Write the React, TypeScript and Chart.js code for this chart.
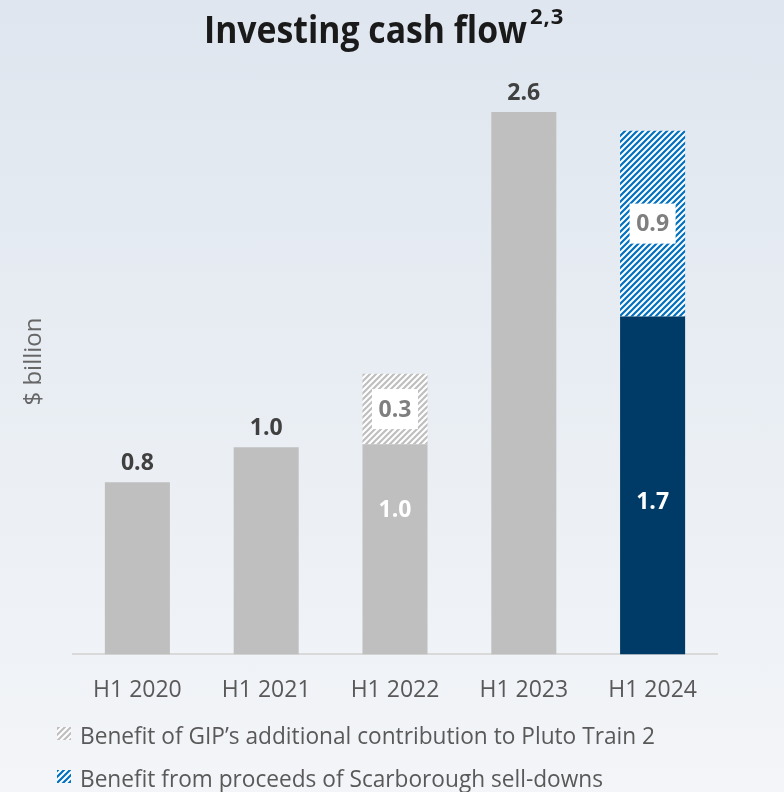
import React, { useEffect, useRef } from 'react';
import { Chart, registerables } from 'chart.js';

Chart.register(...registerables);

const titleText = 'Investing cash flow';
const titleSup = '2,3';
const yAxisTitle = '$ billion';
const categories = ['H1 2020', 'H1 2021', 'H1 2022', 'H1 2023', 'H1 2024'];
const baseValues = [0.825, 0.993, 1.007, 2.6, 1.62];
const gipValues = [0, 0, 0.338, 0, 0];
const scarValues = [0, 0, 0, 0, 0.89];
const topLabels = ['0.8', '1.0', '', '2.6', ''];
const baseLabels = ['', '', '1.0', '', '1.7'];
const gipLabels = ['', '', '0.3', '', ''];
const scarLabels = ['', '', '', '', '0.9'];
const legendLabels = [
  'Benefit of GIP\u2019s additional contribution to Pluto Train 2',
  'Benefit from proceeds of Scarborough sell-downs',
];

const FONT = '"Open Sans", "Noto Sans", sans-serif';
const GREY = '#bfbfbf';
const NAVY = '#003b68';
const BLUE = '#0070c0';

function makeHatch(fg: string, bg: string, size = 6, lw = 2.2): CanvasPattern {
  const c = document.createElement('canvas');
  c.width = size;
  c.height = size;
  const x = c.getContext('2d')!;
  x.fillStyle = bg;
  x.fillRect(0, 0, size, size);
  x.strokeStyle = fg;
  x.lineWidth = lw;
  x.beginPath();
  x.moveTo(0, size);
  x.lineTo(size, 0);
  x.moveTo(-size / 2, size / 2);
  x.lineTo(size / 2, -size / 2);
  x.moveTo(size / 2, size * 1.5);
  x.lineTo(size * 1.5, size / 2);
  x.stroke();
  return x.createPattern(c, 'repeat')!;
}

export default function App() {
  const ref = useRef<HTMLCanvasElement>(null);

  useEffect(() => {
    const canvas = ref.current!;
    const gipPat = makeHatch(GREY, '#ffffff');
    const scarPat = makeHatch(BLUE, '#ffffff');
    const insideOffsets = [0, 0, -39, 0, 17.5];

    const labelPlugin = {
      id: 'customLabels',
      afterDatasetsDraw(chart: any) {
        const ctx: CanvasRenderingContext2D = chart.ctx;
        const m0 = chart.getDatasetMeta(0).data;
        const m1 = chart.getDatasetMeta(1).data;
        const m2 = chart.getDatasetMeta(2).data;
        ctx.save();
        ctx.font = `bold 23px ${FONT}`;
        ctx.textAlign = 'center';
        for (let i = 0; i < categories.length; i++) {
          const b = m0[i];
          if (topLabels[i]) {
            let top = b.y;
            if (gipValues[i] > 0) top = Math.min(top, m1[i].y);
            if (scarValues[i] > 0) top = Math.min(top, m2[i].y);
            ctx.fillStyle = '#404040';
            ctx.textBaseline = 'alphabetic';
            ctx.fillText(topLabels[i], b.x, top - 12.5);
          }
          if (baseLabels[i]) {
            const cy = (b.y + b.base) / 2 + insideOffsets[i];
            ctx.fillStyle = '#ffffff';
            ctx.textBaseline = 'middle';
            ctx.fillText(baseLabels[i], b.x, cy);
          }
          const boxed = [
            [gipLabels[i], m1[i]],
            [scarLabels[i], m2[i]],
          ] as any[];
          for (const [txt, el] of boxed) {
            if (!txt) continue;
            const cy = (el.y + el.base) / 2;
            ctx.fillStyle = '#ffffff';
            ctx.fillRect(el.x - 23, cy - 20, 46, 40);
            ctx.fillStyle = '#7f7f7f';
            ctx.textBaseline = 'middle';
            ctx.fillText(txt, el.x, cy + 1);
          }
        }
        ctx.restore();
      },
      afterDraw(chart: any) {
        const ctx: CanvasRenderingContext2D = chart.ctx;
        ctx.save();
        ctx.fillStyle = '#1a1a1a';
        ctx.textAlign = 'left';
        ctx.textBaseline = 'alphabetic';
        ctx.font = `bold 37px ${FONT}`;
        ctx.fillText(titleText, 204, 43, 323);
        ctx.font = `bold 22px ${FONT}`;
        (ctx as any).letterSpacing = '1px';
        ctx.fillText(titleSup, 530, 24, 42);
        (ctx as any).letterSpacing = '0px';
        ctx.save();
        ctx.translate(41, 361.5);
        ctx.rotate(-Math.PI / 2);
        ctx.textAlign = 'center';
        ctx.font = `24px ${FONT}`;
        ctx.fillStyle = '#666666';
        ctx.fillText(yAxisTitle, 0, 0, 93);
        ctx.restore();
        const pats = [gipPat, scarPat];
        const ys = [744, 787];
        const widths = [575, 523];
        ctx.font = `23px ${FONT}`;
        ctx.textAlign = 'left';
        for (let k = 0; k < legendLabels.length; k++) {
          ctx.fillStyle = pats[k];
          ctx.fillRect(57, ys[k] - 17, 14, 13);
          ctx.fillStyle = '#595959';
          ctx.fillText(legendLabels[k], 80, ys[k], widths[k]);
        }
        ctx.restore();
      },
    };

    const chart = new Chart(canvas, {
      type: 'bar',
      data: {
        labels: categories,
        datasets: [
          {
            label: 'base',
            data: baseValues,
            backgroundColor: [GREY, GREY, GREY, GREY, NAVY],
            borderWidth: 0,
          },
          {
            label: legendLabels[0],
            data: gipValues,
            backgroundColor: gipPat,
            borderWidth: 0,
          },
          {
            label: legendLabels[1],
            data: scarValues,
            backgroundColor: scarPat,
            borderWidth: 0,
          },
        ],
      },
      options: {
        animation: false,
        responsive: true,
        maintainAspectRatio: false,
        layout: { padding: { left: 73, right: 67, top: 112, bottom: 66 } },
        datasets: { bar: { categoryPercentage: 1, barPercentage: 0.505 } },
        plugins: {
          legend: { display: false },
          title: { display: false },
          tooltip: { enabled: false },
        },
        scales: {
          x: {
            stacked: true,
            grid: { display: false, drawTicks: false },
            border: { color: '#d9d9d9', width: 2 },
            ticks: {
              color: '#595959',
              font: { family: FONT, size: 23 },
              padding: 22,
            },
          },
          y: {
            stacked: true,
            display: false,
            min: 0,
            max: 2.6,
          },
        },
      },
      plugins: [labelPlugin],
    });
    return () => chart.destroy();
  }, []);

  return (
    <div
      style={{
        position: 'absolute',
        left: 0,
        top: 0,
        width: 784,
        height: 792,
        background: 'linear-gradient(180deg, #dfe6ef 0%, #e8edf3 45%, #f3f5f8 100%)',
      }}
    >
      <canvas ref={ref} />
    </div>
  );
}
